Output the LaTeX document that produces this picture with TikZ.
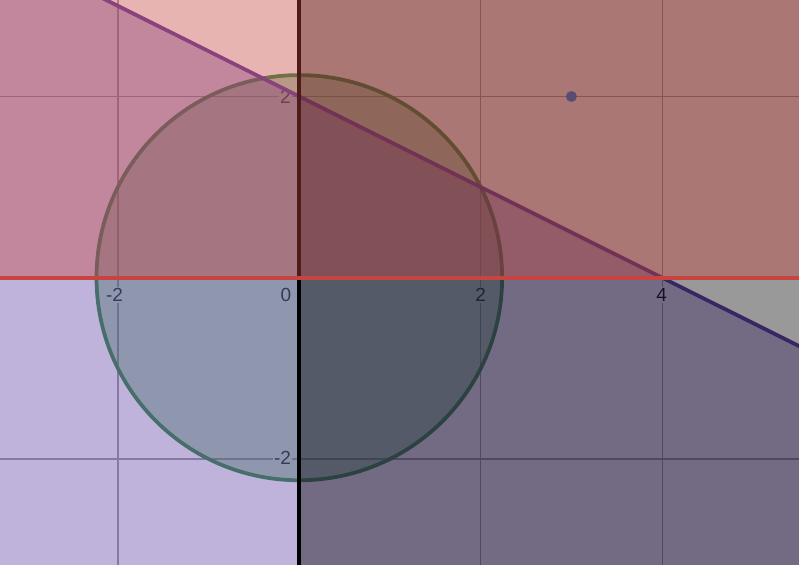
\documentclass[tikz,border=0pt]{standalone}
\usepackage{fontspec}
\setmainfont{Liberation Sans}
\definecolor{dgreen}{HTML}{388C46}
\definecolor{dpurple}{HTML}{6042A6}
\definecolor{dred}{HTML}{C74440}
\definecolor{dotc}{RGB}{88,76,114}
\begin{document}
\begin{tikzpicture}[x=90.7pt,y=90.6pt,
  gridline/.style={draw=black!38, line width=1.2pt},
  ticklabel/.style={font=\fontsize{19}{19}\selectfont, fill=white, inner sep=1.5pt, text=black},
  region/.style={fill opacity=0.4, draw opacity=1, line width=3.75pt}]
\useasboundingbox (-3.300,-3.171) rectangle (5.509,3.065);
\clip (-3.300,-3.171) rectangle (5.509,3.065);
\fill[white] (-4,-4) rectangle (6,4);
% grid
\foreach \x in {-2,2,4} \draw[gridline] (\x,-4) -- (\x,4);
\foreach \y in {-2,2} \draw[gridline] (-4,\y) -- (6,\y);
% tick labels
\node[ticklabel] (lxm2) at (-2.037,-0.191) {-2};
\node[ticklabel] (lx0) at (-0.147,-0.191) {0};
\node[ticklabel] (lx2) at (1.998,-0.191) {2};
\node[ticklabel] (lx4) at (3.996,-0.191) {4};
\node[ticklabel] (ly2) at (-0.152,2.0) {2};
\node[ticklabel] (lym2) at (-0.185,-1.99) {-2};
% circle x^2+y^2 <= 5
\draw[region, fill=dgreen, draw=dgreen] (0,0) circle ({sqrt(5)});
% y <= -x/2 + 2
\fill[dpurple, fill opacity=0.4] (-4,4) -- (6,-1) -- (6,-4) -- (-4,-4) -- cycle;
\draw[dpurple, line width=3.75pt] (-4,4) -- (6,-1);
% x >= 0
\fill[black, fill opacity=0.4] (0,-4) rectangle (6,4);
\draw[black, line width=3.75pt] (0,-4) -- (0,4);
% y >= 0
\fill[dred, fill opacity=0.4] (-4,0) rectangle (6,4);
\draw[dred, line width=3.75pt] (-4,0) -- (6,0);
% point (3,2)
\fill[dotc] (3,2) circle (5.5pt);
\end{tikzpicture}
\end{document}
